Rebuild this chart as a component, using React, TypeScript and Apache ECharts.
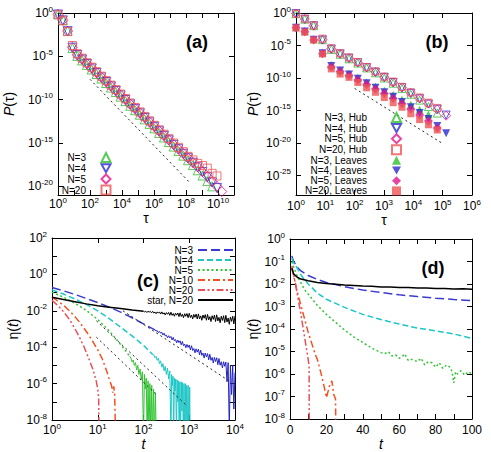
import React, { useEffect, useRef } from 'react';
import * as echarts from 'echarts';

const FONT = "'Liberation Sans', Arial, Helvetica, sans-serif";

// ---------------- Panel (a) ----------------
const aTau = [1, 2, 4, 8, 16, 32, 64, 128, 256, 512, 1024, 2048, 4096, 8192, 16384, 32768, 65536, 131072, 262144, 524288, 1048576, 2097152, 4194304, 8388608, 16777216, 33554432, 67108864, 134217728, 268435456, 536870912, 1073741824, 2147483648, 4294967296, 8589934592, 17179869184];
// log10 P(tau)
const aN3 = [-0.15, -0.82, -2.05, -4.05, -4.95, -5.47, -5.99, -6.52, -7.04, -7.56, -8.08, -8.6, -9.12, -9.65, -10.17, -10.7, -11.22, -11.74, -12.27, -12.79, -13.31, -13.84, -14.36, -14.89, -15.41, -15.93, -16.46, -16.99, -17.55, -18.15, -18.75, -19.4, -20.0];
const aN4 = [-0.17, -0.85, -2.1, -4.0, -4.85, -5.37, -5.89, -6.4, -6.92, -7.44, -7.96, -8.47, -8.99, -9.51, -10.03, -10.55, -11.06, -11.58, -12.1, -12.62, -13.13, -13.65, -14.17, -14.69, -15.21, -15.72, -16.24, -16.76, -17.28, -17.8, -18.35, -18.95, -19.55, -20.2];
const aN5 = [-0.16, -0.84, -2.08, -3.95, -4.83, -5.35, -5.86, -6.38, -6.9, -7.42, -7.93, -8.45, -8.97, -9.49, -10.0, -10.52, -11.04, -11.56, -12.07, -12.59, -13.11, -13.63, -14.15, -14.66, -15.18, -15.7, -16.22, -16.73, -17.25, -17.75, -18.3, -18.85, -19.45, -20.0, -20.6];
const aN20 = [-0.2, -0.9, -2.15, -3.75, -4.7, -5.22, -5.74, -6.25, -6.77, -7.29, -7.8, -8.32, -8.84, -9.35, -9.87, -10.38, -10.9, -11.41, -11.93, -12.44, -12.96, -13.47, -13.98, -14.5, -15.0, -15.5, -16.0, -16.55, -16.95, -17.35, -17.6, -17.9, -18.5, -18.8];
const aGuideTau = [100, 158000000];
const aGuideLogP = [-7.65, -19.5];
const aXTicks = [0, 1, 2, 3, 4, 5, 6, 7, 8, 9, 10, 11];
const aXLabels = [0, 2, 4, 6, 8, 10];
const aYTicks = [0, -5, -10, -15, -20];
const aLegend = ['N=3', 'N=4', 'N=5', 'N=20'];

// ---------------- Panel (b) ----------------
const bTau = [1, 2, 4, 8, 16, 32, 64, 128, 256, 512, 1024, 2048, 4096, 8192, 16384, 32768, 65536, 131072];
const bHubN3 = [-0.1, -0.95, -1.95, -4.1, -5.6, -6.35, -7.05, -7.7, -8.45, -9.2, -10.0, -10.8, -11.6, -12.5, -13.4, -14.4, -15.4];
const bHubN4 = [-0.1, -0.95, -1.97, -4.15, -5.55, -6.3, -6.95, -7.65, -8.4, -9.1, -9.9, -10.7, -11.5, -12.35, -13.2, -14.0, -14.8, -15.7];
const bHubN5 = [-0.08, -0.92, -1.95, -4.1, -5.5, -6.28, -6.95, -7.62, -8.38, -9.08, -9.88, -10.68, -11.48, -12.3, -13.15, -13.95, -14.85, -15.8];
const bHubN20 = [-0.1, -0.9, -1.9, -3.95, -5.45, -6.2, -6.85, -7.55, -8.3, -9.0, -9.8, -10.55, -11.35, -12.2, -13.0, -13.8, -14.6];
const bLeafN3 = [-2.2, -2.8, -4.05, -6.1, -8.0, -8.75, -9.3, -9.95, -10.65, -11.3, -11.95, -12.6, -13.35, -14.1, -14.9, -15.6];
const bLeafN4 = [-2.25, -2.85, -4.1, -6.2, -8.15, -8.85, -9.45, -10.1, -10.8, -11.5, -12.2, -12.9, -13.7, -14.5, -15.4, -16.3, -17.4, -18.5];
const bLeafN5 = [-2.25, -2.9, -4.15, -6.25, -8.3, -9.0, -9.6, -10.3, -11.0, -11.7, -12.4, -13.15, -13.95, -14.8, -15.7, -16.6, -17.7];
const bLeafN20 = [-2.3, -2.95, -4.15, -6.3, -8.6, -9.4, -9.9, -10.7, -11.5, -12.2, -13.0, -13.8, -14.5, -15.5, -16.4, -17.2, -18.0];
const bGuideTau = [100, 93000];
const bGuideLogP = [-11.6, -20.0];
const bXTicks = [0, 1, 2, 3, 4, 5, 6];
const bYTicks = [0, -5, -10, -15, -20, -25];
const bLegend = ['N=3, Hub', 'N=4, Hub', 'N=5, Hub', 'N=20, Hub', 'N=3, Leaves', 'N=4, Leaves', 'N=5, Leaves', 'N=20, Leaves'];

// ---------------- Panel (c) ---------------- (log10 t, log10 eta)
const cN3LogT = [0, 0.25, 0.5, 0.75, 1.0, 1.25, 1.5, 1.75, 2.0, 2.25];
const cN3 = [-0.72, -0.9, -1.1, -1.32, -1.55, -1.8, -2.07, -2.38, -2.72, -3.05];
const cN3NoiseLogT = [2.25, 2.275, 2.3, 2.325, 2.35, 2.375, 2.4, 2.425, 2.45, 2.475, 2.5, 2.525, 2.55, 2.575, 2.6, 2.625, 2.65, 2.675, 2.7, 2.725, 2.75, 2.775, 2.8, 2.825, 2.85, 2.875, 2.9, 2.925, 2.95, 2.975, 3.0, 3.025, 3.05, 3.075, 3.1, 3.125, 3.15, 3.175, 3.2, 3.225, 3.25, 3.275, 3.3, 3.325, 3.35, 3.375, 3.4, 3.425, 3.45, 3.475, 3.5, 3.525, 3.55, 3.575, 3.6, 3.625, 3.65, 3.675, 3.7, 3.725, 3.75, 3.775, 3.8, 3.825, 3.85, 3.875, 3.9, 3.925, 3.95, 3.975, 4.0];
const cN3Noise = [-3.05, -3.11, -3.09, -3.2, -3.13, -3.23, -3.18, -3.33, -3.23, -3.38, -3.34, -3.48, -3.37, -3.49, -3.41, -3.6, -3.46, -3.65, -3.58, -3.76, -3.61, -3.75, -3.65, -3.87, -3.69, -3.92, -3.83, -4.03, -3.85, -4.01, -3.88, -4.15, -3.92, -4.18, -4.07, -4.31, -4.09, -4.27, -4.11, -4.42, -4.16, -4.45, -4.32, -4.59, -4.32, -4.53, -4.35, -4.69, -4.39, -4.72, -4.56, -4.87, -4.56, -4.79, -4.58, -4.96, -4.62, -4.99, -4.8, -5.14, -4.8, -5.05, -4.81, -5.9, -4.85, -8.5, -4.98, -6.6, -4.99, -7.4, -5.4];
const cN4LogT = [0, 0.25, 0.5, 0.75, 1.0, 1.25, 1.5, 1.75, 2.0, 2.2];
const cN4 = [-0.85, -1.08, -1.35, -1.65, -2.0, -2.43, -2.9, -3.38, -3.9, -4.4];
const cN4NoiseLogT = [2.2, 2.225, 2.25, 2.275, 2.3, 2.325, 2.35, 2.375, 2.4, 2.425, 2.45, 2.475, 2.5, 2.525, 2.55, 2.575, 2.6, 2.615, 2.63, 2.645, 2.66, 2.675, 2.69, 2.705, 2.72, 2.735, 2.75, 2.765, 2.78, 2.795, 2.81, 2.825, 2.84, 2.855, 2.87, 2.885, 2.9, 2.915, 2.93, 2.945, 2.96, 2.975, 2.99, 3.01, 3.02];
const cN4Noise = [-4.4, -4.42, -4.58, -4.5, -4.72, -4.6, -4.9, -4.75, -5.1, -4.9, -5.3, -5.05, -5.5, -5.15, -5.75, -5.3, -9, -5.5, -6.1, -5.6, -9, -5.7, -6.4, -5.75, -9, -5.8, -7.0, -5.85, -9, -5.9, -9, -5.9, -7.5, -5.95, -9, -6.0, -9, -6.0, -9, -6.1, -9, -6.1, -9, -6.2, -9];
const cN5LogT = [0, 0.25, 0.5, 0.75, 1.0, 1.25, 1.5, 1.7];
const cN5 = [-0.98, -1.25, -1.58, -1.98, -2.48, -3.1, -3.85, -4.5];
const cN5NoiseLogT = [1.7, 1.725, 1.75, 1.775, 1.8, 1.825, 1.85, 1.875, 1.9, 1.925, 1.95, 1.975, 2.0, 2.02, 2.04, 2.06, 2.08, 2.1, 2.12, 2.14, 2.16, 2.18, 2.2, 2.22, 2.24, 2.26, 2.28];
const cN5Noise = [-4.5, -4.6, -4.8, -4.7, -5.0, -4.85, -5.25, -5.0, -5.5, -5.2, -5.8, -5.35, -9, -5.5, -6.3, -5.7, -9, -5.85, -9, -6.0, -9, -6.1, -9, -6.3, -9, -6.5, -9];
const cN10LogT = [0, 0.1, 0.2, 0.3, 0.4, 0.5, 0.6, 0.7, 0.8, 0.9, 1.0, 1.1, 1.2, 1.25, 1.3, 1.33, 1.35, 1.37, 1.39];
const cN10 = [-1.25, -1.42, -1.6, -1.8, -2.05, -2.32, -2.62, -2.96, -3.32, -3.72, -4.15, -4.65, -5.35, -5.75, -6.1, -6.5, -6.15, -6.6, -9];
const cN20LogT = [0, 0.1, 0.2, 0.3, 0.4, 0.5, 0.6, 0.7, 0.8, 0.9, 0.97, 1.0, 1.02, 1.03];
const cN20 = [-1.43, -1.65, -1.9, -2.2, -2.55, -2.98, -3.45, -3.98, -4.6, -5.25, -5.9, -6.3, -6.8, -9];
const cStarLogT = [0, 0.25, 0.5, 0.75, 1.0, 1.25, 1.5, 1.75, 2.0];
const cStar = [-1.25, -1.38, -1.5, -1.62, -1.72, -1.8, -1.88, -1.96, -2.03];
const cStarNoiseLogT = [2.0, 2.025, 2.05, 2.075, 2.1, 2.125, 2.15, 2.175, 2.2, 2.225, 2.25, 2.275, 2.3, 2.325, 2.35, 2.375, 2.4, 2.425, 2.45, 2.475, 2.5, 2.525, 2.55, 2.575, 2.6, 2.625, 2.65, 2.675, 2.7, 2.725, 2.75, 2.775, 2.8, 2.825, 2.85, 2.875, 2.9, 2.925, 2.95, 2.975, 3.0, 3.025, 3.05, 3.075, 3.1, 3.125, 3.15, 3.175, 3.2, 3.225, 3.25, 3.275, 3.3, 3.325, 3.35, 3.375, 3.4, 3.425, 3.45, 3.475, 3.5, 3.525, 3.55, 3.575, 3.6, 3.625, 3.65, 3.675, 3.7, 3.725, 3.75, 3.775, 3.8, 3.825, 3.85, 3.875, 3.9, 3.925, 3.95, 3.975, 4.0];
const cStarNoise = [-2.03, -2.06, -2.03, -2.09, -2.03, -2.07, -2.03, -2.11, -2.03, -2.12, -2.07, -2.16, -2.06, -2.13, -2.06, -2.18, -2.06, -2.18, -2.11, -2.23, -2.1, -2.19, -2.09, -2.25, -2.08, -2.25, -2.15, -2.3, -2.13, -2.24, -2.12, -2.32, -2.11, -2.31, -2.19, -2.38, -2.16, -2.3, -2.15, -2.38, -2.14, -2.37, -2.23, -2.45, -2.2, -2.36, -2.18, -2.45, -2.17, -2.44, -2.28, -2.52, -2.23, -2.41, -2.21, -2.52, -2.2, -2.5, -2.32, -2.59, -2.27, -2.47, -2.24, -2.59, -2.22, -2.56, -2.36, -2.66, -2.3, -2.53, -2.27, -2.65, -2.25, -2.62, -2.4, -2.74, -2.34, -2.58, -2.3, -2.72, -2.28];
const cGuide1LogT = [1.55, 3.9];
const cGuide1 = [-2.0, -5.9];
const cGuide2LogT = [0.97, 2.94];
const cGuide2 = [-2.55, -7.2];
const cGuide3LogT = [0.97, 2.28];
const cGuide3 = [-3.45, -6.6];
const cXTicks = [0, 1, 2, 3, 4];
const cYTicks = [-8, -7, -6, -5, -4, -3, -2, -1, 0, 1, 2];
const cYLabels = [-8, -6, -4, -2, 0, 2];
const cLegend = ['N=3', 'N=4', 'N=5', 'N=10', 'N=20', 'star, N=20'];

// ---------------- Panel (d) ---------------- (t, log10 eta)
const dN3T = [1, 2, 4, 6, 10, 15, 20, 30, 40, 50, 60, 70, 80, 90, 100];
const dN3 = [-0.75, -1.0, -1.25, -1.42, -1.62, -1.8, -1.93, -2.12, -2.27, -2.38, -2.48, -2.56, -2.63, -2.69, -2.74];
const dN4T = [1, 2, 4, 6, 10, 15, 20, 30, 40, 50, 60, 70, 80, 90, 100];
const dN4 = [-0.85, -1.05, -1.3, -1.6, -2.0, -2.4, -2.68, -3.04, -3.35, -3.58, -3.78, -3.96, -4.08, -4.22, -4.42];
const dN5T = [1, 2, 4, 6, 8, 10, 12, 15, 20, 25, 30, 35, 40, 45, 50, 52, 54, 56, 58, 60, 62, 63, 65, 67, 70, 72, 74, 76, 78, 80, 82, 84, 86, 88, 89, 90, 91, 92, 94, 96, 98, 100];
const dN5 = [-1.0, -1.25, -1.65, -1.95, -2.25, -2.45, -2.65, -2.95, -3.35, -3.7, -4.05, -4.35, -4.6, -4.85, -5.05, -5.1, -5.0, -5.2, -5.15, -5.3, -5.2, -5.1, -5.4, -5.35, -5.45, -5.3, -5.6, -5.45, -5.5, -5.7, -5.5, -5.75, -5.6, -5.7, -5.9, -6.4, -5.9, -6.0, -5.85, -6.05, -5.9, -6.0];
const dN10T = [1, 2, 3, 4, 5, 6, 7, 8, 9, 10, 11, 12, 13, 14, 15, 16, 17, 18, 19, 20, 21, 22, 23, 24, 25, 25.3];
const dN10 = [-1.3, -1.65, -2.0, -2.35, -2.65, -2.95, -3.25, -3.55, -3.85, -4.15, -4.4, -4.65, -4.9, -5.15, -5.35, -5.65, -5.95, -6.3, -6.65, -7.05, -6.75, -6.45, -6.3, -6.9, -7.1, -9];
const dN20T = [1, 2, 3, 4, 5, 6, 7, 8, 9, 10, 10.5, 10.6];
const dN20 = [-1.2, -1.6, -2.0, -2.45, -2.9, -3.35, -3.85, -4.35, -4.85, -5.35, -5.65, -9];
const dStarT = [1, 2, 4, 6, 10, 15, 20, 30, 40, 45, 50, 55, 60, 65, 70, 75, 80, 85, 90, 95, 100];
const dStar = [-1.3, -1.55, -1.7, -1.78, -1.86, -1.93, -1.98, -2.04, -2.09, -2.1, -2.13, -2.13, -2.16, -2.16, -2.18, -2.18, -2.2, -2.2, -2.22, -2.21, -2.23];
const dXTicks = [0, 10, 20, 30, 40, 50, 60, 70, 80, 90, 100];
const dXLabels = [0, 20, 40, 60, 80, 100];
const dYTicks = [-8, -7, -6, -5, -4, -3, -2, -1, 0];

// ---------------- styling ----------------
const GREEN = '#2dbf2d';
const BLUE = '#2b2bcf';
const MAGENTA = '#e0168e';
const RED = '#ef5454';
const C_BLUE = '#3a3ad2';
const C_CYAN = '#1fc6c6';
const C_GREEN = '#33c433';
const C_ORANGE = '#f4511f';
const C_RED = '#e5515a';
const INV_TRI = 'path://M0,0L10,0L5,9Z';

const RICH: any = {
  b: { fontSize: 12, lineHeight: 16, fontFamily: FONT, color: '#000' },
  s: { fontSize: 8, lineHeight: 9, verticalAlign: 'top', fontFamily: FONT, color: '#000' },
};
const sup = (v: number) => `{b|10}{s|${Math.round(v)}}`;
const plain = (v: number) => String(Math.round(v));

type AxCfg = {
  min: number; max: number; ticks: number[]; labels: number[];
  fmt: (v: number) => string; name: string; nameGap: number; margin: number;
};

function makeAxes(isX: boolean, c: AxCfg) {
  const line = { show: true, onZero: false, lineStyle: { color: '#000', width: 1 } };
  const tick = { show: true, inside: true, length: 5, lineStyle: { color: '#000', width: 1 }, customValues: c.ticks };
  const main = {
    type: 'value', position: isX ? 'bottom' : 'left', min: c.min, max: c.max,
    axisLine: line, axisTick: tick, splitLine: { show: false },
    axisLabel: {
      show: true, customValues: c.labels, formatter: c.fmt, margin: c.margin,
      color: '#000', fontFamily: FONT, fontSize: 12, rich: RICH, hideOverlap: false,
    },
    name: c.name, nameLocation: 'middle', nameGap: c.nameGap, nameRotate: isX ? 0 : 90,
    nameTextStyle: {
      fontFamily: FONT, fontSize: 14, color: '#000',
      rich: { i: { fontFamily: FONT, fontSize: 14, fontStyle: 'italic', color: '#000' } },
    },
  };
  const mirror = {
    type: 'value', position: isX ? 'top' : 'right', min: c.min, max: c.max,
    axisLine: line, axisTick: tick, splitLine: { show: false }, axisLabel: { show: false },
  };
  return [main, mirror];
}

const logPairs = (xs: number[], ys: number[]) => ys.map((y, i) => [Math.log10(xs[i]), y]);
const pairs = (xs: number[], ys: number[]) => ys.map((y, i) => [xs[i], y]);

function scat(name: string, data: number[][], symbol: string, color: string, filled: boolean, size: number, rotate = 0) {
  return {
    type: 'scatter', name, data, symbol, symbolSize: size, symbolRotate: rotate,
    itemStyle: filled
      ? { color, borderWidth: 0 }
      : { color: 'rgba(0,0,0,0)', borderColor: color, borderWidth: 1 },
    silent: true, emphasis: { disabled: true }, clip: true,
  };
}
function ln(name: string, data: number[][], color: string, width: number, type: any) {
  return {
    type: 'line', name, data, showSymbol: false, symbol: 'none',
    lineStyle: { color, width, type }, itemStyle: { color },
    silent: true, emphasis: { disabled: true }, clip: true,
  };
}
function panelLabel(text: string, x: number, y: number) {
  return {
    type: 'text', x, y, silent: true,
    style: { text, font: `bold 18px ${FONT}`, fill: '#000', align: 'center', verticalAlign: 'middle' },
  };
}
// legend entries; names starting "N=4" use a downward triangle
const legendData = (names: string[]) => names.map((n) => (n.indexOf('N=4') === 0 ? { name: n, icon: INV_TRI } : n));
function legend(left: number, top: number, itemWidth: number, textWidth: number, padRight: number, rowH: number, data: any[], extra: any = {}) {
  return {
    orient: 'vertical', left, top, align: 'right', padding: 0,
    itemWidth, itemHeight: 9, itemGap: 0, selectedMode: false,
    textStyle: { fontFamily: FONT, fontSize: 10, lineHeight: rowH, width: textWidth, padding: [0, padRight, 0, 0], color: '#000' },
    data,
    ...extra,
  };
}

const base = { animation: false, backgroundColor: 'transparent', textStyle: { fontFamily: FONT } };

function optionA() {
  return {
    ...base,
    grid: { left: 58, top: 13, width: 176, height: 182, outerBoundsMode: 'none' },
    xAxis: makeAxes(true, { min: 0, max: 11, ticks: aXTicks, labels: aXLabels, fmt: sup, name: 'τ', nameGap: 14, margin: 1 }),
    yAxis: makeAxes(false, { min: -21, max: 0, ticks: aYTicks, labels: aYTicks, fmt: sup, name: '{i|P}(τ)', nameGap: 42, margin: 5 }),
    legend: legend(56, 152, 9, 30, 10.5, 10.5, legendData(aLegend)),
    graphic: [panelLabel('(a)', 197, 42)],
    series: [
      ln('guide a', logPairs(aGuideTau, aGuideLogP), '#222', 1, [2, 3]),
      scat('N=3', logPairs(aTau, aN3), 'triangle', GREEN, false, 9),
      scat('N=4', logPairs(aTau, aN4), 'triangle', BLUE, false, 9, 180),
      scat('N=5', logPairs(aTau, aN5), 'diamond', MAGENTA, false, 10),
      scat('N=20', logPairs(aTau, aN20), 'rect', RED, false, 8),
    ],
  };
}

function optionB() {
  return {
    ...base,
    grid: { left: 296, top: 13, width: 176, height: 182, outerBoundsMode: 'none' },
    xAxis: makeAxes(true, { min: 0, max: 6, ticks: bXTicks, labels: bXTicks, fmt: sup, name: 'τ', nameGap: 16, margin: 3 }),
    yAxis: makeAxes(false, { min: -28, max: 0, ticks: bYTicks, labels: bYTicks, fmt: sup, name: '{i|P}(τ)', nameGap: 36, margin: 5 }),
    legend: legend(305, 112, 9, 62, 20, 10.2, legendData(bLegend)),
    graphic: [panelLabel('(b)', 437, 42)],
    series: [
      ln('guide b', logPairs(bGuideTau, bGuideLogP), '#222', 1, [2, 3]),
      scat('N=3, Hub', logPairs(bTau, bHubN3), 'triangle', GREEN, false, 8),
      scat('N=4, Hub', logPairs(bTau, bHubN4), 'triangle', BLUE, false, 8, 180),
      scat('N=5, Hub', logPairs(bTau, bHubN5), 'diamond', MAGENTA, false, 9),
      scat('N=20, Hub', logPairs(bTau, bHubN20), 'rect', RED, false, 7),
      scat('N=3, Leaves', logPairs(bTau, bLeafN3), 'triangle', GREEN, true, 8),
      scat('N=4, Leaves', logPairs(bTau, bLeafN4), 'triangle', BLUE, true, 8, 180),
      scat('N=5, Leaves', logPairs(bTau, bLeafN5), 'diamond', MAGENTA, true, 9),
      scat('N=20, Leaves', logPairs(bTau, bLeafN20), 'rect', RED, true, 7),
    ],
  };
}

function optionC() {
  return {
    ...base,
    grid: { left: 52, top: 238, width: 183, height: 182, outerBoundsMode: 'none' },
    xAxis: makeAxes(true, { min: 0, max: 4, ticks: cXTicks, labels: cXTicks, fmt: sup, name: '{i|t}', nameGap: 11, margin: 2 }),
    yAxis: makeAxes(false, { min: -8, max: 2, ticks: cYTicks, labels: cYLabels, fmt: sup, name: 'η({i|t})', nameGap: 32, margin: 5 }),
    legend: legend(133, 245, 35, 60, 0, 9.5, cLegend, { itemStyle: { color: 'rgba(0,0,0,0)', borderWidth: 0, opacity: 0 } }),
    graphic: [panelLabel('(c)', 148, 281)],
    series: [
      ln('N=3', pairs(cN3LogT, cN3), C_BLUE, 1.5, [9, 4]),
      ln('N=4', pairs(cN4LogT, cN4), C_CYAN, 1.5, [6, 3]),
      ln('N=5', pairs(cN5LogT, cN5), C_GREEN, 1.5, [2, 2.5]),
      ln('N=10', pairs(cN10LogT, cN10), C_ORANGE, 1.5, [7, 3, 2, 3]),
      ln('N=20', pairs(cN20LogT, cN20), C_RED, 1.5, [7, 2.5, 2, 2.5, 2, 2.5]),
      ln('star, N=20', pairs(cStarLogT, cStar), '#000', 1.5, 'solid'),
      ln('N=3 noise', pairs(cN3NoiseLogT, cN3Noise), '#2424c4', 1, 'solid'),
      ln('N=4 noise', pairs(cN4NoiseLogT, cN4Noise), C_CYAN, 1, 'solid'),
      ln('N=5 noise', pairs(cN5NoiseLogT, cN5Noise), C_GREEN, 1, 'solid'),
      ln('star noise', pairs(cStarNoiseLogT, cStarNoise), '#000', 1, 'solid'),
      ln('guide c1', pairs(cGuide1LogT, cGuide1), '#222', 1, [2, 3]),
      ln('guide c2', pairs(cGuide2LogT, cGuide2), '#222', 1, [2, 3]),
      ln('guide c3', pairs(cGuide3LogT, cGuide3), '#222', 1, [2, 3]),
    ],
  };
}

function optionD() {
  return {
    ...base,
    grid: { left: 290, top: 239, width: 182, height: 180, outerBoundsMode: 'none' },
    xAxis: makeAxes(true, { min: 0, max: 100, ticks: dXTicks, labels: dXLabels, fmt: plain, name: '{i|t}', nameGap: 12, margin: 5 }),
    yAxis: makeAxes(false, { min: -8, max: 0, ticks: dYTicks, labels: dYTicks, fmt: sup, name: 'η({i|t})', nameGap: 30, margin: 5 }),
    graphic: [panelLabel('(d)', 433, 268)],
    series: [
      ln('N=3', pairs(dN3T, dN3), C_BLUE, 1.5, [9, 4]),
      ln('N=4', pairs(dN4T, dN4), C_CYAN, 1.5, [6, 3]),
      ln('N=5', pairs(dN5T, dN5), C_GREEN, 1.5, [2, 2.5]),
      ln('N=10', pairs(dN10T, dN10), C_ORANGE, 1.5, [7, 3, 2, 3]),
      ln('N=20', pairs(dN20T, dN20), C_RED, 1.5, [7, 2.5, 2, 2.5, 2, 2.5]),
      ln('star, N=20', pairs(dStarT, dStar), '#000', 1.5, 'solid'),
    ],
  };
}

export default function App() {
  const ra = useRef<HTMLDivElement>(null);
  const rb = useRef<HTMLDivElement>(null);
  const rc = useRef<HTMLDivElement>(null);
  const rd = useRef<HTMLDivElement>(null);

  useEffect(() => {
    const els = [ra.current, rb.current, rc.current, rd.current];
    const opts = [optionA(), optionB(), optionC(), optionD()];
    const charts = els.map((el, i) => {
      const c = echarts.init(el as HTMLDivElement, null, { renderer: 'svg' });
      c.setOption(opts[i] as any);
      return c;
    });
    return () => charts.forEach((c) => c.dispose());
  }, []);

  const layer: React.CSSProperties = { position: 'absolute', left: 0, top: 0, width: 491, height: 452 };
  return (
    <div style={{ position: 'fixed', left: 0, top: 0, width: 491, height: 452, background: '#fff' }}>
      <div ref={ra} style={layer} />
      <div ref={rb} style={layer} />
      <div ref={rc} style={layer} />
      <div ref={rd} style={layer} />
    </div>
  );
}
